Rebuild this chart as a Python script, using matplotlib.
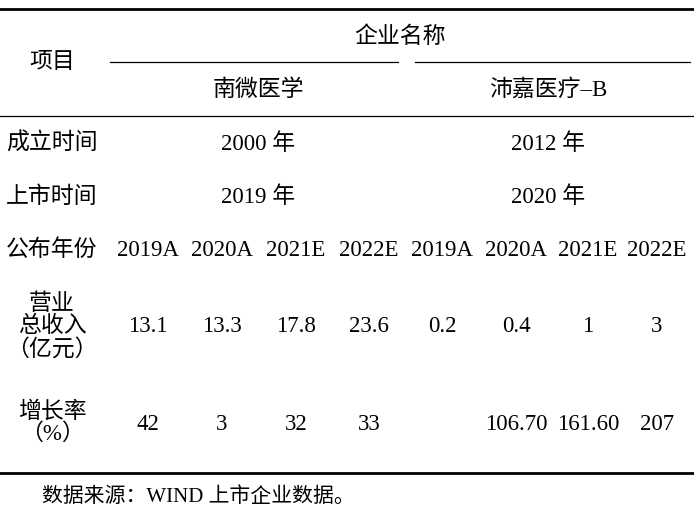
import matplotlib.pyplot as plt

plt.rcParams["font.family"] = ["Liberation Serif", "Noto Sans CJK SC"]

companies = ["南微医学", "沛嘉医疗–B"]
founded = ["2000 年", "2012 年"]
listed = ["2019 年", "2020 年"]
years = ["2019A", "2020A", "2021E", "2022E", "2019A", "2020A", "2021E", "2022E"]
revenue = ["13.1", "13.3", "17.8", "23.6", "0.2", "0.4", "1", "3"]
growth = ["42", "3", "32", "33", "", "106.70", "161.60", "207"]

fig = plt.figure(figsize=(6.94, 5.14), dpi=100)
ax = fig.add_axes([0, 0, 1, 1])
ax.set_xlim(0, 694)
ax.set_ylim(514, 0)
ax.axis("off")

fs = 16.5
col_x = [148, 222, 296, 369, 442, 516, 588, 657]
comp_x = [258, 548]
lab_x = 52

# rules
ax.plot([0, 694], [9, 9], color="black", lw=2)
ax.plot([110, 398], [62, 62], color="black", lw=0.9)
ax.plot([415, 690], [62, 62], color="black", lw=0.9)
ax.plot([0, 694], [116, 116], color="black", lw=0.9)
ax.plot([0, 694], [473, 473], color="black", lw=2)

ax.text(400, 37, "企业名称", fontsize=fs, ha="center", va="center")
ax.text(lab_x, 62, "项目", fontsize=fs, ha="center", va="center")
for x, c in zip(comp_x, companies):
    ax.text(x, 90, c, fontsize=fs, ha="center", va="center")

ax.text(lab_x, 144, "成立时间", fontsize=fs, ha="center", va="center")
ax.text(lab_x, 197, "上市时间", fontsize=fs, ha="center", va="center")
for x, a, b in zip(comp_x, founded, listed):
    ax.text(x, 144, a, fontsize=fs, ha="center", va="center")
    ax.text(x, 197, b, fontsize=fs, ha="center", va="center")

ax.text(lab_x, 250, "公布年份", fontsize=fs, ha="center", va="center")
ax.text(lab_x, 327, "营业\n总收入\n（亿元）", fontsize=fs, ha="center", va="center",
        linespacing=1.05)
ax.text(lab_x, 423, "增长率\n（%）", fontsize=fs, ha="center", va="center",
        linespacing=1.05)
for x, y, r, g in zip(col_x, years, revenue, growth):
    ax.text(x, 250, y, fontsize=fs, ha="center", va="center")
    ax.text(x, 327, r, fontsize=fs, ha="center", va="center")
    ax.text(x, 425, g, fontsize=fs, ha="center", va="center")

ax.text(42, 497, "数据来源：WIND 上市企业数据。", fontsize=15, ha="left", va="center")

fig.savefig("out.png", dpi=100)
